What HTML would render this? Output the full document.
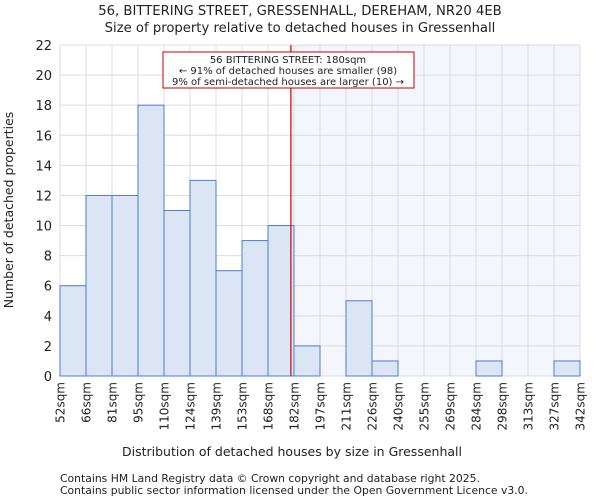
<!DOCTYPE html>
<html><head><meta charset="utf-8"><style>
body{margin:0;background:#fff;font-family:"DejaVu Sans","Liberation Sans",sans-serif;}
svg text{font-family:"DejaVu Sans","Liberation Sans",sans-serif;fill:#222;}
</style></head><body>
<svg id="c" width="600" height="500" xmlns="http://www.w3.org/2000/svg">
<text x="300" y="15" text-anchor="middle" font-size="13.2">56, BITTERING STREET, GRESSENHALL, DEREHAM, NR20 4EB</text>
<text x="300" y="32" text-anchor="middle" font-size="13.2">Size of property relative to detached houses in Gressenhall</text>
<g id="plot"></g>
<text x="292" y="456" text-anchor="middle" font-size="12.5">Distribution of detached houses by size in Gressenhall</text>
<text transform="translate(13,210) rotate(-90)" text-anchor="middle" font-size="12.5">Number of detached properties</text>
<text x="60" y="482" font-size="10.8">Contains HM Land Registry data © Crown copyright and database right 2025.</text>
<text x="60" y="494" font-size="10.8">Contains public sector information licensed under the Open Government Licence v3.0.</text>
</svg>
<script>
const binLabels=["52sqm","66sqm","81sqm","95sqm","110sqm","124sqm","139sqm","153sqm","168sqm","182sqm","197sqm","211sqm","226sqm","240sqm","255sqm","269sqm","284sqm","298sqm","313sqm","327sqm","342sqm"];
const counts=[6,12,12,18,11,13,7,9,10,2,0,5,1,0,0,0,1,0,0,1];
const yTicks=[0,2,4,6,8,10,12,14,16,18,20,22];
const markerBin=[8.88];
const NS="http://www.w3.org/2000/svg";
const L=60,R=580,T=45,B=376,yMax=22;
const n=counts.length,bw=(R-L)/n;
const xs=i=>L+i*bw;
const ys=v=>B-v/yMax*(B-T);
const g=document.getElementById('plot');
function mk(t,a,p){const e=document.createElementNS(NS,t);for(const k in a)e.setAttribute(k,a[k]);(p||g).appendChild(e);return e;}
const mx=xs(markerBin[0]);
let e=mk('rect',{x:mx,y:T,width:R-mx,height:B-T,fill:'#f3f6fc'});


for(let i=0;i<=n;i++){e=mk('line',{x1:xs(i),x2:xs(i),y1:T,y2:B,stroke:'#dcdcdc'});

}
yTicks.forEach(v=>{e=mk('line',{x1:L,x2:R,y1:ys(v),y2:ys(v),stroke:'#dcdcdc'});


e=mk('text',{x:L-8,y:ys(v)+5,'text-anchor':'end','font-size':13});e.textContent=v;

});
counts.forEach((c,i)=>{if(c<=0)return;e=mk('rect',{x:xs(i),y:ys(c),width:bw,height:B-ys(c),fill:'#dbe5f4',stroke:'#4a7fd0','stroke-width':1});

});
binLabels.forEach((l,i)=>{const x=xs(i);e=mk('text',{x:x+4.5,y:382,'text-anchor':'end','font-size':12,transform:`rotate(-90 ${x+4.5} 382)`});e.textContent=l;

});
e=mk('line',{x1:mx,x2:mx,y1:T,y2:B,stroke:'#cc0000','stroke-width':1.2});


const ag=mk('g',{});


mk('rect',{x:163,y:52,width:251,height:36,fill:'#fff',stroke:'#cc0000'},ag);
[["56 BITTERING STREET: 180sqm",63],["← 91% of detached houses are smaller (98)",74],["9% of semi-detached houses are larger (10) →",85]].forEach(([t,y])=>{const tx=mk('text',{x:288,y:y,'text-anchor':'middle','font-size':10,textLength:'',},ag);tx.removeAttribute('textLength');tx.textContent=t;});
</script>
</body></html>
